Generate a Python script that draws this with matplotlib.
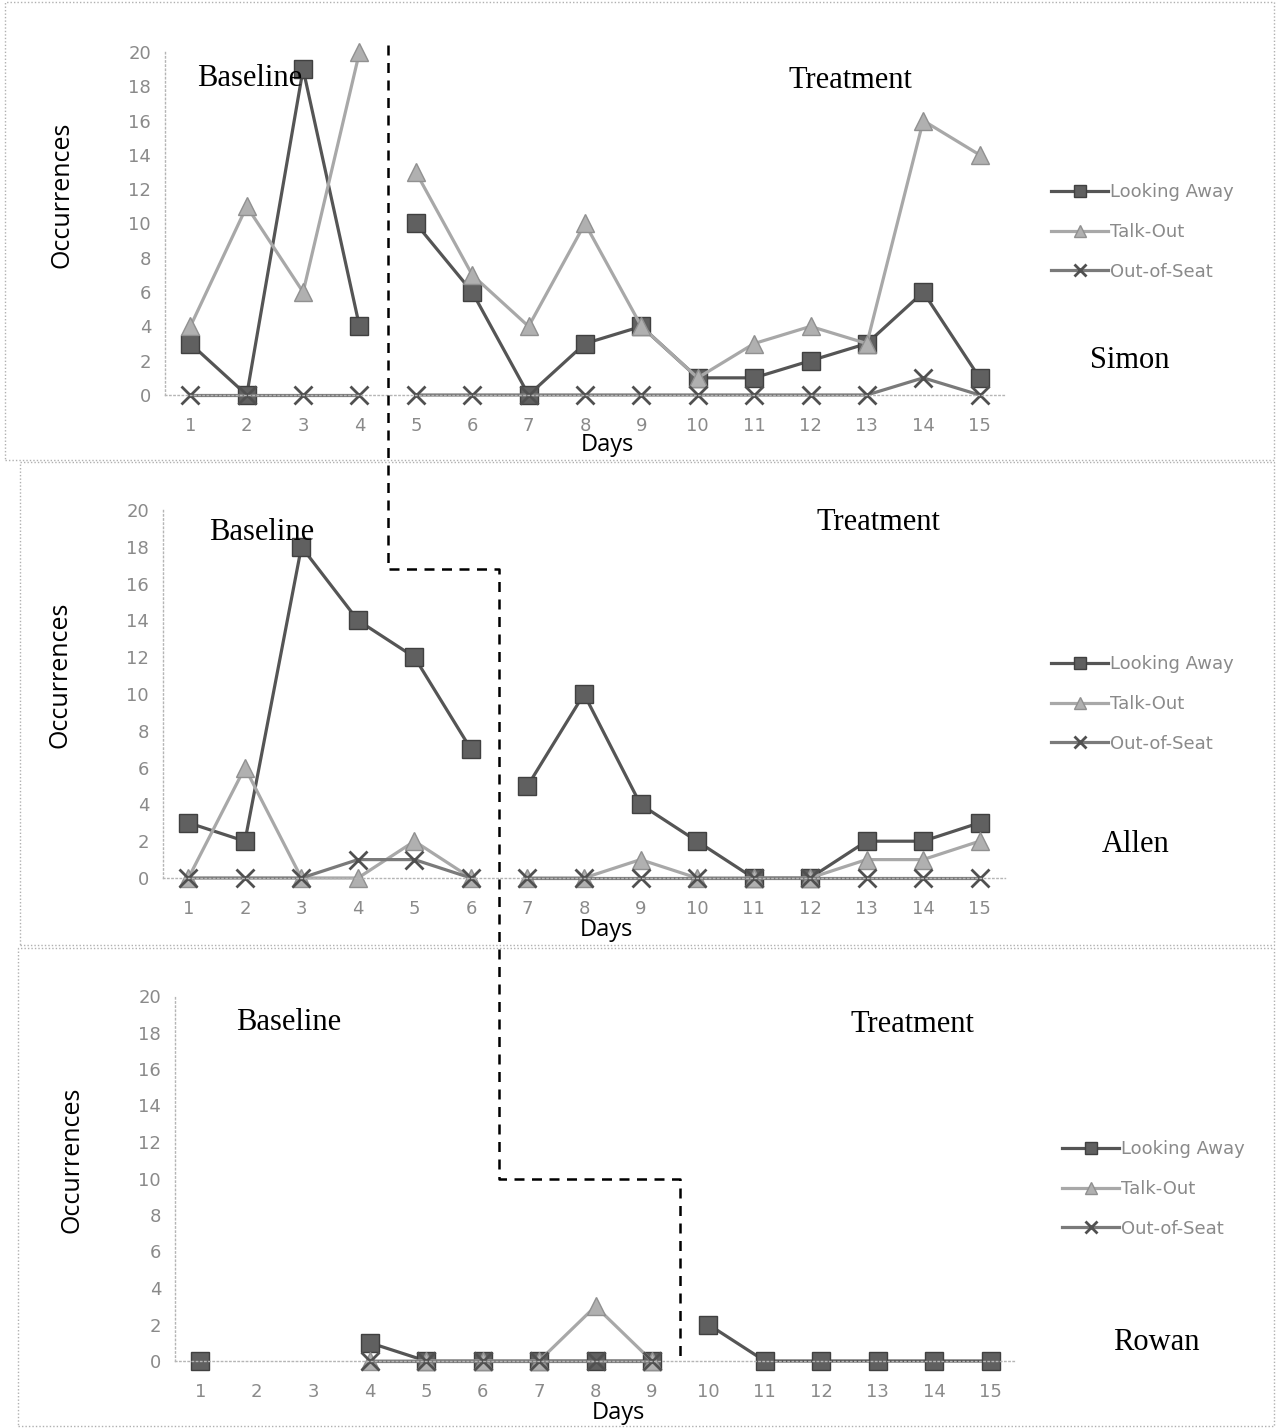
"""Multiple-baseline chart: occurrences of three behaviours for Simon, Allen and Rowan."""

import numpy as np
import matplotlib.pyplot as plt
from matplotlib.lines import Line2D
from matplotlib.patches import Rectangle

nan = np.nan
days = np.arange(1, 16)

# Simon: baseline days 1-4, treatment 5-15
simon_look = [3, 0, 19, 4, 10, 6, 0, 3, 4, 1, 1, 2, 3, 6, 1]
simon_talk = [4, 11, 6, 20, 13, 7, 4, 10, 4, 1, 3, 4, 3, 16, 14]
simon_seat = [0, 0, 0, 0, 0, 0, 0, 0, 0, 0, 0, 0, 0, 1, 0]

# Allen: baseline days 1-6, treatment 7-15
allen_look = [3, 2, 18, 14, 12, 7, 5, 10, 4, 2, 0, 0, 2, 2, 3]
allen_talk = [0, 6, 0, 0, 2, 0, 0, 0, 1, 0, 0, 0, 1, 1, 2]
allen_seat = [0, 0, 0, 1, 1, 0, 0, 0, 0, 0, 0, 0, 0, 0, 0]

# Rowan: baseline days 1-9, treatment 10-15
rowan_look = [0, nan, nan, 1, 0, 0, 0, 0, 0, 2, 0, 0, 0, 0, 0]
rowan_talk = [nan, nan, nan, 0, 0, 0, 0, 3, 0, nan, nan, nan, nan, nan, nan]
rowan_seat = [nan, nan, nan, 0, 0, 0, 0, 0, 0, nan, nan, nan, nan, nan, nan]

students = ["Simon", "Allen", "Rowan"]
last_baseline_day = [4, 6, 9]
step_levels = [16.8, 10]  # height of the horizontal steps in panels 2 and 3

series_names = ["Looking Away", "Talk-Out", "Out-of-Seat"]
panel_data = [
    [simon_look, simon_talk, simon_seat],
    [allen_look, allen_talk, allen_seat],
    [rowan_look, rowan_talk, rowan_seat],
]

styles = [
    dict(color="#555555", marker="s", markersize=13, mfc="#606060", mec="#404040"),
    dict(color="#a8a8a8", marker="^", markersize=13, mfc="#b0b0b0", mec="#909090"),
    dict(color="#7a7a7a", marker="x", markersize=13, mew=2, mec="#505050"),
]

W, H = 1276, 1428
fig = plt.figure(figsize=(W / 100, H / 100), dpi=100)

# axes boxes in pixels: left, top, right, bottom
boxes = [(165, 52, 1005, 395), (163, 510, 1005, 878), (175, 996, 1016, 1361)]
frames = [(5, 2, 1274, 460), (20, 462, 1274, 945), (18, 948, 1274, 1426)]
base_pos = [(250, 78), (262, 532), (289, 1022)]
treat_pos = [(850, 80), (878, 523), (912, 1025)]
name_pos = [(1130, 360), (1136, 845), (1156, 1342)]
legend_y = [0.475, 0.473, 0.471]
ylabel_y = [0.583, 0.552, 0.551]

for (x0, y0, x1, y1) in frames:
    fig.add_artist(Rectangle((x0 / W, 1 - y1 / H), (x1 - x0) / W, (y1 - y0) / H,
                             transform=fig.transFigure, fill=False,
                             ec="#b0b0b0", lw=1, ls=(0, (1, 1.5))))

axes = []
for i, (left, top, right, bottom) in enumerate(boxes):
    ax = fig.add_axes([left / W, 1 - bottom / H, (right - left) / W, (bottom - top) / H])
    axes.append(ax)
    split = last_baseline_day[i]
    for vals, name, st in zip(panel_data[i], series_names, styles):
        vals = np.array(vals, dtype=float)
        ax.plot(days[:split], vals[:split], lw=2.3, label=name, clip_on=False, **st)
        ax.plot(days[split:], vals[split:], lw=2.3, clip_on=False, **st)

    ax.set_xlim(0.55, 15.45)
    ax.set_ylim(0, 20)
    ax.set_xticks(days)
    ax.set_yticks(np.arange(0, 21, 2))
    ax.tick_params(length=0, labelsize=13, labelcolor="#8a8a8a", pad=10)
    ax.tick_params(axis="x", pad=16)
    for s in ["top", "right"]:
        ax.spines[s].set_visible(False)
    for s in ["left", "bottom"]:
        ax.spines[s].set_color("#b5b5b5")
        ax.spines[s].set_linestyle((0, (1, 2)))
        ax.spines[s].set_linewidth(1)
    ax.patch.set_alpha(0)

    ax.set_xlabel("Days", fontsize=17, family="Open Sans")
    ax.xaxis.set_label_coords(0.527, -0.11)
    ax.set_ylabel("Occurrences", fontsize=18, family="Open Sans")
    ax.yaxis.set_label_coords(-0.108, ylabel_y[i])

    ax.legend(loc="center left", bbox_to_anchor=(1.035, legend_y[i]),
              frameon=False, fontsize=13, handlelength=3.2, handletextpad=0.1,
              labelspacing=1.2, labelcolor="#8a8a8a", markerscale=0.7)

    fig.text(base_pos[i][0] / W, 1 - base_pos[i][1] / H, "Baseline",
             family="Liberation Serif", fontsize=22, ha="center", va="center")
    fig.text(treat_pos[i][0] / W, 1 - treat_pos[i][1] / H, "Treatment",
             family="Liberation Serif", fontsize=22, ha="center", va="center")
    fig.text(name_pos[i][0] / W, 1 - name_pos[i][1] / H, students[i],
             family="Liberation Serif", fontsize=22, ha="center", va="center")

# phase-change line stepping down through the three panels
def to_fig(ax, x, y):
    p = ax.transData.transform((x, y))
    return fig.transFigure.inverted().transform(p)

pts = [to_fig(axes[0], last_baseline_day[0] + 0.5, 20.4)]
pts.append(to_fig(axes[1], last_baseline_day[0] + 0.5, step_levels[0]))
pts.append(to_fig(axes[1], last_baseline_day[1] + 0.5, step_levels[0]))
pts.append(to_fig(axes[2], last_baseline_day[1] + 0.5, step_levels[1]))
pts.append(to_fig(axes[2], last_baseline_day[2] + 0.5, step_levels[1]))
pts.append(to_fig(axes[2], last_baseline_day[2] + 0.5, 0))
# keep the vertical segments truly vertical between panels
xs = [pts[0][0], pts[0][0], pts[2][0], pts[2][0], pts[4][0], pts[4][0]]
ys = [pts[0][1], pts[1][1], pts[2][1], pts[3][1], pts[4][1], pts[5][1]]
fig.add_artist(Line2D(xs, ys, transform=fig.transFigure, color="black",
                      lw=1.8, ls=(0, (4, 3))))

fig.savefig("out.png", dpi=100)
